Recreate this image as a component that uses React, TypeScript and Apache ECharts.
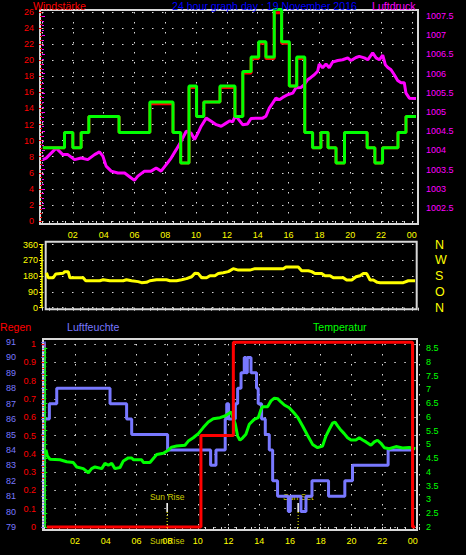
import React, { useEffect, useRef } from 'react';
import * as echarts from 'echarts';

// ---------- tick labels ----------
const hourTicks = ['02', '04', '06', '08', '10', '12', '14', '16', '18', '20', '22', '00'];
const dirTickValues = [0, 90, 180, 270, 360];
const dirLetters = ['N', 'O', 'S', 'W', 'N'];

// ---------- wind (km/h), step values, start hour of each step ----------
const windTimes = [0.05, 1.46, 2.0, 2.54, 3.04, 5.0, 7.0, 8.5, 9.0, 9.54, 10.03, 10.5, 11.55, 12.52, 13.03, 13.57, 14.06, 14.53, 15.07, 15.55, 16.05, 16.53, 17.05, 17.56, 18.1, 18.56, 19.08, 19.63, 21.1, 21.6, 22.1, 23.1, 23.62, 24.27];
const windGust = [9.1, 11.0, 9.1, 11.0, 13.0, 11.0, 14.8, 11.0, 7.2, 16.8, 13.0, 14.8, 16.8, 13.0, 18.6, 20.4, 22.3, 20.4, 26.3, 22.3, 16.8, 20.4, 11.0, 9.1, 11.0, 9.1, 7.2, 11.0, 9.1, 7.2, 9.1, 11.0, 13.0, 13.0];
const windSpeed = [9.1, 11.0, 9.1, 11.0, 13.0, 11.0, 14.6, 11.0, 7.2, 16.6, 13.0, 14.8, 16.6, 13.0, 18.4, 20.2, 22.1, 20.2, 25.9, 22.1, 16.8, 20.2, 11.0, 9.1, 11.0, 9.1, 7.2, 11.0, 9.1, 7.2, 9.1, 11.0, 13.0, 13.0];

// ---------- pressure (hPa) ----------
const pressureTimes = [0.05, 0.27, 0.92, 1.35, 1.68, 2.11, 2.54, 2.97, 3.41, 3.73, 3.95, 4.16, 4.49, 4.92, 5.36, 5.79, 6.0, 6.22, 6.65, 7.08, 7.41, 7.73, 8.06, 8.38, 8.71, 9.03, 9.36, 9.68, 9.9, 10.12, 10.33, 10.66, 10.98, 11.31, 11.63, 11.95, 12.19,
  12.37, 12.54, 12.69, 13.02, 13.34, 13.56, 13.88, 14.32, 14.53, 14.75, 14.97, 15.18, 15.4, 15.62, 15.94, 16.27, 16.48, 16.81, 17.02, 17.24, 17.45, 17.67, 17.89, 17.99, 18.21, 18.43, 18.64, 18.86, 19.19, 19.51, 19.84, 20.05, 20.38, 20.59, 20.92, 21.14, 21.46, 21.68, 21.89, 22.11, 22.28, 22.44, 22.65, 22.86, 23.08, 23.3, 23.51, 23.62, 23.84, 24.27];
const pressureValues = [1003.76, 1003.8, 1004.06, 1003.89, 1003.89, 1003.76, 1003.8, 1003.76, 1003.89, 1003.96, 1003.85, 1003.59, 1003.46, 1003.41, 1003.41, 1003.28, 1003.22, 1003.33, 1003.46, 1003.46, 1003.54, 1003.46, 1003.63, 1003.8, 1004.02, 1004.24, 1004.5, 1004.45, 1004.28, 1004.45, 1004.63, 1004.84, 1004.76, 1004.67, 1004.63, 1004.71, 1004.77,
  1004.74, 1004.89, 1004.84, 1004.67, 1004.69, 1004.83, 1004.84, 1004.84, 1004.89, 1005.1, 1005.23, 1005.36, 1005.32, 1005.38, 1005.45, 1005.49, 1005.63, 1005.64, 1005.71, 1005.84, 1005.9, 1005.97, 1006.06, 1006.25, 1006.15, 1006.25, 1006.15, 1006.3, 1006.34, 1006.36, 1006.41, 1006.34, 1006.42, 1006.45, 1006.41, 1006.36, 1006.54, 1006.41, 1006.36, 1006.48, 1006.23, 1006.16, 1006.1, 1005.97, 1005.82, 1005.76, 1005.76, 1005.49, 1005.36, 1005.35];

// ---------- wind direction (deg) ----------
const dirTimes = [0.29, 0.4, 0.72, 0.9, 1.37, 1.48, 1.7, 1.81, 2.67, 2.84, 3.75, 3.97, 4.4, 5.27, 5.48, 5.81, 6.24, 6.46, 6.78, 7.0, 7.43, 8.08, 8.3, 8.73, 9.06, 9.38, 9.71, 9.92, 10.14, 10.36, 10.68, 10.9, 11.22, 11.44, 11.76, 12.09, 12.41, 12.74, 13.49, 13.82, 15.66, 15.83, 16.63, 16.85, 17.28, 17.5, 17.71, 18.15, 18.36, 18.69, 18.9, 19.55, 19.77, 20.1, 20.38, 20.64, 20.85, 21.07, 21.29, 21.5, 21.76, 21.94, 23.45, 23.77, 24.21];
const dirValues = [200, 171, 171, 193, 197, 206, 206, 171, 171, 154, 154, 160, 154, 154, 160, 154, 149, 143, 145, 154, 160, 160, 154, 154, 160, 166, 177, 197, 195, 171, 171, 183, 183, 195, 200, 206, 223, 215, 215, 223, 223, 233, 233, 211, 211, 206, 195, 195, 183, 183, 171, 171, 158, 158, 177, 183, 195, 195, 158, 158, 145, 143, 143, 154, 154];

// ---------- rain (mm), steps ----------
const rainTimes = [0.16, 10.2, 12.31, 23.98, 24.15];
const rainValues = [0, 0.5, 1.01, 0, 0];

// ---------- humidity (%), steps ----------
const humTimes = [0.11, 0.33, 0.81, 4.28, 5.36, 5.69, 8.03, 10.83, 11.18, 11.78, 11.88, 12.0, 12.44, 12.59, 12.81, 13.02, 13.13, 13.22, 13.46, 13.82, 13.93, 14.15, 14.39, 14.65, 14.87, 15.19, 15.89, 16.02, 16.71, 17.04, 17.43, 18.51, 19.57, 20.07, 22.39, 23.98];
const humValues = [86, 87, 88, 87, 86, 85, 84, 83, 84, 86, 87, 86, 87, 88, 89, 90, 89, 90, 89, 88, 87, 86, 85, 84, 82, 81, 80, 81, 80, 81, 82, 81, 82, 83, 84, 84];

// ---------- temperature (°C) ----------
const tempTimes = [0.11, 0.2, 0.37, 1.02, 1.46, 1.89, 2.11, 2.54, 2.87, 3.08, 3.3, 3.74, 3.95, 4.17, 4.39, 4.6, 4.93, 5.15, 5.47, 5.69, 5.8, 6.34, 6.45, 6.88, 7.1, 7.32, 7.75, 8.07, 8.29, 8.62, 9.16, 9.38, 9.7, 10.03, 10.35, 10.68, 11.0, 11.44, 11.76, 12.09,
  12.15, 12.26, 12.44, 12.59, 12.74, 12.92, 13.13, 13.35, 13.67, 13.93, 14.11, 14.22, 14.54, 14.76, 14.98, 15.19, 15.41, 15.63, 15.95, 16.28, 16.49, 16.82, 17.14, 17.47, 17.8, 18.12, 18.34, 18.56, 18.77, 18.93, 19.1, 19.31, 19.53, 19.75, 19.97, 20.29, 20.51, 20.73, 20.95, 21.27, 21.49, 21.7, 21.92, 22.14, 22.46, 22.9, 23.33, 23.77, 24.16];
const tempValues = [4.8, 4.58, 4.46, 4.44, 4.37, 4.34, 4.18, 4.12, 3.97, 4.12, 4.18, 4.12, 4.31, 4.24, 4.31, 4.12, 4.16, 4.4, 4.51, 4.51, 4.44, 4.44, 4.34, 4.34, 4.49, 4.63, 4.68, 4.79, 4.9, 4.94, 4.97, 5.12, 5.24, 5.39, 5.61, 5.81, 5.93, 5.97, 6.03, 6.15,
  6.18, 6.03, 5.73, 5.3, 5.15, 5.24, 5.37, 5.73, 5.91, 5.97, 6.27, 6.37, 6.37, 6.58, 6.68, 6.66, 6.54, 6.43, 6.33, 6.13, 5.99, 5.67, 5.33, 5.0, 4.88, 4.94, 5.3, 5.55, 5.77, 5.81, 5.67, 5.52, 5.39, 5.24, 5.16, 5.16, 5.24, 5.16, 5.09, 4.97, 5.09, 5.15, 5.04, 4.88, 4.84, 4.92, 4.87, 4.89, 4.84];

// ---------- sun events (hour) ----------
const sunTimes = [8.0, 16.53];
const sunLabels = ['Sun Rise', 'Sun Set'];

const zip = (a: number[], b: number[]) => a.map((t, i) => [t, b[i]]);

const FONT = "'Liberation Sans', Arial, sans-serif";
const NARROW = "'Liberation Sans Narrow', 'Liberation Sans', Arial, sans-serif";
const GRIDC = '#d8d8d8';
const DOT = [1.5, 8.5];
const RED = '#ff0000';
const MAG = '#ff00ff';
const GRN = '#00ff00';
const YEL = '#ffff00';
const HUM = '#7878ff';

const plain = (v: number) => String(Math.round(v * 1000) / 1000);

const hourFmt = (v: number) => {
  const r = Math.round(v * 100) / 100;
  if (r > 0 && r <= 24 && Math.abs(r % 2) < 1e-6) return hourTicks[r / 2 - 1];
  return '';
};

function hourAxis(gridIndex: number, mode: 'full' | 'ticks' | 'none', offset = 0) {
  if (mode === 'none') return { type: 'value', gridIndex, min: 0, max: 24.4, show: false };
  return {
    type: 'value', gridIndex, min: 0, max: 24.4, interval: 2, position: 'bottom', offset,
    axisLine: { show: false },
    axisTick: { show: true, length: 3, lineStyle: { color: GRIDC, width: 1 } },
    minorTick: { show: true, splitNumber: 4, length: 3, lineStyle: { color: GRIDC, width: 1 } },
    axisLabel: { show: mode === 'full', color: YEL, fontSize: 9, fontFamily: NARROW, margin: 6.5, formatter: hourFmt },
    splitLine: { show: mode === 'full', lineStyle: { color: GRIDC, type: DOT, width: 1 } },
  };
}

function lineSeries(xi: number, yi: number, data: any[], color: string, extra: any = {}) {
  return {
    type: 'line', xAxisIndex: xi, yAxisIndex: yi, data, symbol: 'none', showSymbol: false,
    lineStyle: { color, width: 3 }, itemStyle: { color }, silent: true, animation: false,
    emphasis: { disabled: true }, ...extra,
  };
}

function buildOption() {
  const gtext = (text: string, x: number, y: number, fill: string, size = 10.6) => ({
    type: 'text', x, y, silent: true, z: 10,
    style: { text, fill, fontSize: size, fontFamily: FONT, textAlign: 'left', textVerticalAlign: 'middle' },
  });
  const border = (x: number, y: number, w: number, h: number) => ({
    type: 'rect', silent: true, z: 0, shape: { x, y, width: w, height: h },
    style: { fill: 'none', stroke: GRIDC, lineWidth: 2 },
  });

  return {
    animation: false,
    backgroundColor: '#000000',
    textStyle: { fontFamily: FONT },
    grid: [
      { left: 42, right: 48, top: 12, bottom: 334 },      // 0 wind
      { left: 42, right: 48, top: 16, bottom: 347 },      // 1 pressure
      { left: 42, right: 48, top: 244.7, bottom: 247.3 }, // 2 direction
      { left: 44.3, right: 47, top: 344, bottom: 28 },    // 3 rain
      { left: 44.3, right: 47, top: 342, bottom: 28 },    // 4 humidity
      { left: 44.3, right: 47, top: 348, bottom: 28 },    // 5 temperature
    ],
    xAxis: [
      hourAxis(0, 'full', 3),
      hourAxis(1, 'none'),
      hourAxis(2, 'ticks', 1.6),
      hourAxis(3, 'full', 3),
      hourAxis(4, 'none'),
      hourAxis(5, 'none'),
    ],
    yAxis: [
      { // 0 wind
        type: 'value', gridIndex: 0, position: 'left', offset: 2, min: 0, max: 26, interval: 2,
        axisLine: { show: false },
        axisTick: { show: true, length: 3, lineStyle: { color: RED } },
        minorTick: { show: true, splitNumber: 4, length: 2, lineStyle: { color: RED } },
        axisLabel: { color: RED, fontSize: 9, fontFamily: NARROW, margin: 6, formatter: plain },
        splitLine: { show: true, lineStyle: { color: GRIDC, type: DOT, width: 1 } },
      },
      { // 1 pressure
        type: 'value', gridIndex: 1, position: 'right', offset: 0, min: 1002.5, max: 1007.5, interval: 0.5,
        axisLine: { show: false },
        axisTick: { show: true, length: 3, lineStyle: { color: MAG } },
        minorTick: { show: true, splitNumber: 4, length: 2, lineStyle: { color: MAG } },
        axisLabel: { color: MAG, fontSize: 9, fontFamily: NARROW, margin: 8, formatter: plain },
        splitLine: { show: false },
      },
      { // 2 direction
        type: 'value', gridIndex: 2, position: 'left', offset: 0, min: 0, max: 360, interval: 90,
        axisLine: { show: true, lineStyle: { color: YEL, width: 1.5 } },
        axisTick: { show: true, length: 3, lineStyle: { color: YEL } },
        minorTick: { show: true, splitNumber: 6, length: 2, lineStyle: { color: YEL } },
        axisLabel: { color: YEL, fontSize: 9, fontFamily: NARROW, margin: 4, formatter: plain },
        splitLine: { show: true, lineStyle: { color: GRIDC, type: DOT, width: 1 } },
      },
      { // 3 compass letters
        type: 'value', gridIndex: 2, position: 'right', offset: 0, min: 0, max: 360, interval: 90,
        axisLine: { show: false }, axisTick: { show: false }, splitLine: { show: false },
        axisLabel: {
          color: YEL, fontSize: 12.5, fontFamily: FONT, margin: 17,
          formatter: (v: number) => dirLetters[dirTickValues.indexOf(Math.round(v))] || '',
        },
      },
      { // 4 rain
        type: 'value', gridIndex: 3, position: 'left', offset: 4.3, min: 0, max: 1, interval: 0.1,
        axisLine: { show: true, lineStyle: { color: RED, width: 1.5 } },
        axisTick: { show: true, length: 3, lineStyle: { color: RED } },
        minorTick: { show: true, splitNumber: 3, length: 2, lineStyle: { color: RED } },
        axisLabel: { color: RED, fontSize: 9, fontFamily: NARROW, margin: 4, formatter: plain },
        splitLine: { show: true, lineStyle: { color: GRIDC, type: DOT, width: 1 } },
      },
      { // 5 humidity
        type: 'value', gridIndex: 4, position: 'left', offset: 22.3, min: 79, max: 91, interval: 1,
        axisLine: { show: true, lineStyle: { color: HUM, width: 1.5 } },
        axisTick: { show: true, length: 3, lineStyle: { color: HUM } },
        minorTick: { show: true, splitNumber: 5, length: 2, lineStyle: { color: HUM } },
        axisLabel: { color: HUM, fontSize: 9, fontFamily: NARROW, margin: 6, formatter: plain },
        splitLine: { show: false },
      },
      { // 6 temperature
        type: 'value', gridIndex: 5, position: 'right', offset: 0, min: 2, max: 8.5, interval: 0.5,
        axisLine: { show: true, lineStyle: { color: GRN, width: 1.5 } },
        axisTick: { show: true, length: 3, lineStyle: { color: GRN } },
        minorTick: { show: true, splitNumber: 3, length: 2, lineStyle: { color: GRN } },
        axisLabel: { color: GRN, fontSize: 9, fontFamily: NARROW, margin: 7, formatter: plain },
        splitLine: { show: false },
      },
    ],
    series: [
      lineSeries(1, 1, zip(pressureTimes, pressureValues), MAG),
      lineSeries(0, 0, zip(windTimes, windSpeed), RED, { step: 'end', clip: false }),
      lineSeries(0, 0, zip(windTimes, windGust), GRN, { step: 'end', clip: false }),
      lineSeries(2, 2, zip(dirTimes, dirValues), YEL),
      lineSeries(4, 5, zip(humTimes, humValues), HUM, { step: 'end' }),
      lineSeries(5, 6, zip(tempTimes, tempValues), GRN),
      lineSeries(3, 4, zip(rainTimes, rainValues), RED, { step: 'end', clip: false }),
      // sun markers
      ...sunTimes.map((t) => lineSeries(3, 4, [[t, 0.131], [t, 0.082]], '#ffffff', { lineStyle: { color: '#ffffff', width: 1.5 } })),
      ...sunTimes.map((t) => lineSeries(3, 4, [[t, 0.082], [t, -0.016]], YEL, { clip: false, lineStyle: { color: YEL, width: 1, type: [1, 2] } })),
      {
        type: 'scatter', xAxisIndex: 3, yAxisIndex: 4, silent: true, clip: false, symbolSize: 1,
        itemStyle: { color: 'rgba(0,0,0,0)' },
        data: sunTimes.map((t) => [t, 0.131]),
        label: {
          show: true, position: 'top', distance: 1, color: YEL, fontSize: 8.5, fontFamily: FONT,
          formatter: (p: any) => sunLabels[p.dataIndex],
        },
      },
      {
        type: 'scatter', xAxisIndex: 3, yAxisIndex: 4, silent: true, clip: false, symbolSize: 1,
        itemStyle: { color: 'rgba(0,0,0,0)' },
        data: [[sunTimes[0], -0.0765]],
        label: {
          show: true, position: 'inside', color: YEL, fontSize: 8.5, fontFamily: FONT,
          formatter: () => sunLabels[0],
        },
      },
    ],
    graphic: [
      border(40, 10, 378, 214),
      border(45.7, 241.7, 371, 67.6),
      border(43, 339, 374, 191),
      gtext('Windstärke', 33, 6, RED),
      gtext('24 hour graph day : 19 November 2016', 172, 6, '#0000ff'),
      gtext('Luftdruck', 372, 6, MAG),
      gtext('Regen', 0, 327, RED),
      gtext('Luftfeuchte', 67, 327, HUM),
      gtext('Temperatur', 313, 327, GRN),
    ],
  };
}

export default function App() {
  const ref = useRef<HTMLDivElement>(null);
  useEffect(() => {
    document.body.style.margin = '0';
    document.body.style.background = '#000';
    const chart = echarts.init(ref.current as HTMLDivElement, undefined, { renderer: 'svg' });
    chart.setOption(buildOption() as any);
    return () => chart.dispose();
  }, []);
  return <div ref={ref} style={{ position: 'absolute', left: 0, top: 0, width: 466, height: 555, background: '#000' }} />;
}
